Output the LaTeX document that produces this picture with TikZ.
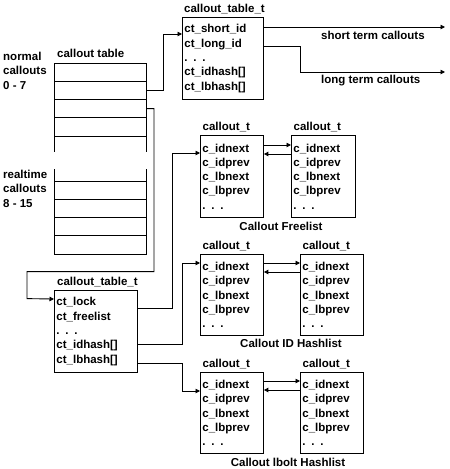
\documentclass[tikz,border=0pt]{standalone}
\usepackage{fontspec}
\setmainfont{Liberation Sans}
\usepackage{tikz}
\usetikzlibrary{arrows.meta, positioning, calc}
\tikzset{
  slot/.style={rectangle, draw, line width=0.9pt, anchor=north west, outer sep=0pt,
    minimum width=92pt, minimum height=18.25pt, inner sep=0pt},
  struct/.style={rectangle, draw, line width=0.9pt, anchor=north west, align=left,
    inner xsep=2pt, inner ysep=0pt, minimum height=82pt, text width=#1},
  tag/.style={anchor=base west, inner sep=0pt},
  group/.style={inner sep=0pt},
  link/.style={line width=0.9pt, -{Triangle[length=4.5pt, width=4.5pt]}},
  wire/.style={line width=0.9pt},
}
\newcommand{\fields}{c\_idnext\\ c\_idprev\\ c\_lbnext\\ c\_lbprev\\ . . .}

\begin{document}
\begin{tikzpicture}[x=1pt, y=-1pt, font=\fontsize{11.5}{14.3}\selectfont\bfseries]
\useasboundingbox (0,0) rectangle (450,469);
% callout table rows
\foreach \i in {1,...,4} {
  \node[slot] (r\i) at (54, {63+(\i-1)*18.25}) {};
  \node[slot] (q\i) at (54, {181+(\i-1)*18.25}) {};
}
\draw[wire] (r4.south west) -- ++(0,16) (r4.south east) -- ++(0,16);
\draw[wire] (q1.north west) -- ++(0,-12) (q1.north east) -- ++(0,-12);
\node[tag] (tbl-lbl) at (57,57) {callout table};
\node[tag, align=left] (norm-lbl) at (3,89) {normal\\ callouts\\ 0 - 7};
\node[tag, align=left] (rt-lbl) at (3,207) {realtime\\ callouts\\ 8 - 15};
% callout_table_t structures
\node[struct=77pt] (ct1) at (182,17) {ct\_short\_id\\ ct\_long\_id\\ . . .\\ ct\_idhash[]\\ ct\_lbhash[]};
\node[tag] at ([shift={(2pt,5pt)}]ct1.north west) {callout\_table\_t};
\node[struct=79pt] (ct2) at (54,290) {ct\_lock\\ ct\_freelist\\ . . .\\ ct\_idhash[]\\ ct\_lbhash[]};
\node[tag] at ([shift={(3pt,5pt)}]ct2.north west) {callout\_table\_t};
% short / long term
\coordinate (st) at (445,27);
\coordinate (lt) at (445,72);
\draw[link] ([yshift=-10pt]ct1.north east) -- (st);
\draw[link] ([yshift=-29pt]ct1.north east) -| ++(37,26) -- (lt);
\node[group, anchor=west] (st-lbl) at (321,35) {short term callouts};
\node[group, anchor=west] (lt-lbl) at (321,81) {long term callouts};
% callout_t lists
\node[struct=59pt] (fl1) at (200,135) {\fields};
\node[struct=60pt] (fl2) at (291,135) {\fields};
\node[struct=59pt, minimum height=81pt] (id1) at (200,254) {\fields};
\node[struct=59pt, minimum height=81pt] (id2) at (300,254) {\fields};
\node[struct=59pt, minimum height=81pt] (ib1) at (200,372) {\fields};
\node[struct=59pt, minimum height=81pt] (ib2) at (300,372) {\fields};
\foreach \b in {fl1,fl2,id1,id2,ib1,ib2}
  \node[tag] at ([shift={(2.5pt,5pt)}]\b.north west) {callout\_t};
\node[group] (fl-lbl) at (281,226) {Callout Freelist};
\node[group] (id-lbl) at (291,343) {Callout ID Hashlist};
\node[group] (ib-lbl) at (288,462) {Callout lbolt Hashlist};
% next / prev links
\draw[link] ([yshift=-10pt]fl1.north east) -- ([yshift=-10pt]fl2.north west);
\draw[link] ([yshift=-19pt]fl2.north west) -- ([yshift=-19pt]fl1.north east);
\draw[link] ([yshift=-9pt]id1.north east) -- ([yshift=-9pt]id2.north west);
\draw[link] ([yshift=-18pt]id2.north west) -- ([yshift=-18pt]id1.north east);
\draw[link] ([yshift=-9pt]ib1.north east) -- ([yshift=-9pt]ib2.north west);
\draw[link] ([yshift=-18pt]ib2.north west) -- ([yshift=-18pt]ib1.north east);
% table pointers
\draw[link] (r2.east) -- ++(17,0) |- ([yshift=-17pt]ct1.north west);
\draw[link] (r3.east) -| ++(8,163) -| ++(-127,27) -- ([yshift=-9pt]ct2.north west);
\draw[link] ([yshift=-18pt]ct2.north east) -| ++(35,-155) -- ([yshift=-18pt]fl1.north west);
\draw[link] ([yshift=-54pt]ct2.north east) -| ++(45,-81) -- ([yshift=-9pt]id1.north west);
\draw[link] ([yshift=-73pt]ct2.north east) -| ++(45,28) -- ([yshift=-19pt]ib1.north west);
\end{tikzpicture}
\end{document}
